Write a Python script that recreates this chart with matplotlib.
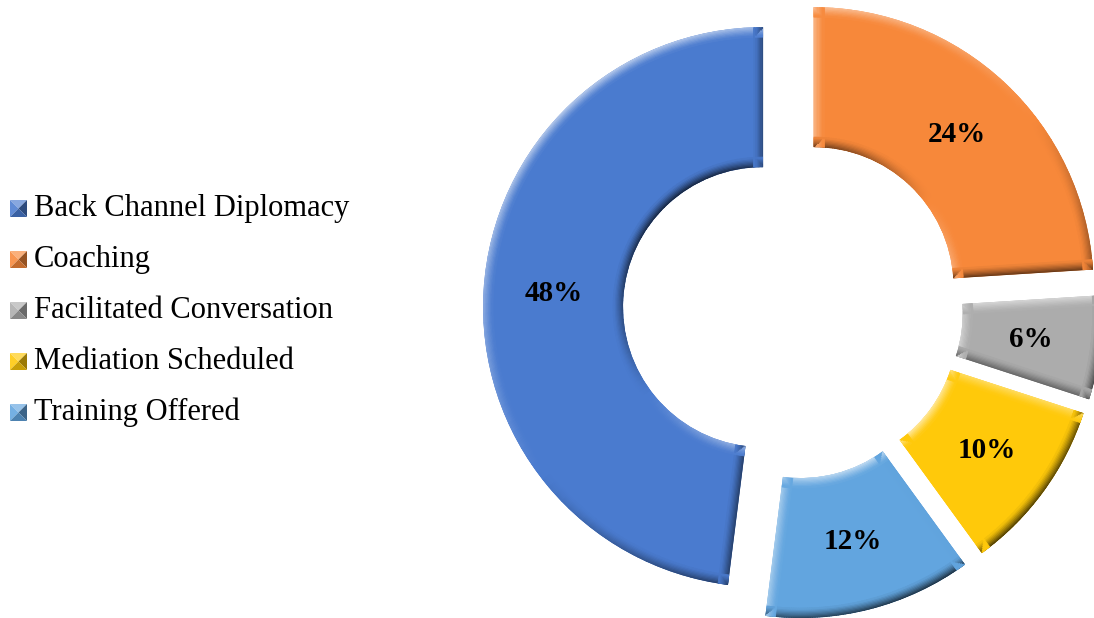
import numpy as np
import matplotlib

matplotlib.use("Agg")
import matplotlib.pyplot as plt  # noqa: E402
from matplotlib.collections import PolyCollection  # noqa: E402
from matplotlib.patches import Polygon  # noqa: E402

CATEGORIES = ["Back Channel Diplomacy", "Coaching", "Facilitated Conversation",
              "Mediation Scheduled", "Training Offered"]
SHARES = [48, 24, 6, 10, 12]
COLORS = ["#4a7bcf", "#f7883a", "#acacac", "#ffc90a", "#62a5df"]

W, H = 1094, 618
SERIF = ["Liberation Serif", "DejaVu Serif"]
LIGHT = np.array([-0.6, 0.8])  # light from the upper left


def shade(rgb, s, strength):
    rgb = np.asarray(rgb)
    if s > 0:
        return rgb + (1 - rgb) * 0.6 * s * strength
    return rgb * (1 - 0.7 * (-s) * strength)


def bevel(ax, wedge, color, depth=10.0, layers=8):
    """Soft bevel: shaded bands along the inside of the wedge outline."""
    c = np.asarray(wedge.center)
    r, w = wedge.r, wedge.width
    t = np.radians(np.linspace(wedge.theta1, wedge.theta2, 90))
    outer = c + r * np.c_[np.cos(t), np.sin(t)]
    inner = c + (r - w) * np.c_[np.cos(t[::-1]), np.sin(t[::-1])]
    ring = np.vstack([outer, inner, outer[:1]])
    base = matplotlib.colors.to_rgb(color)
    quads, cols = [], []
    for k in range(layers):
        d0, d1 = depth * k / layers, depth * (k + 1) / layers
        strength = (1 - k / layers) ** 1.3
        for p0, p1 in zip(ring[:-1], ring[1:]):
            d = p1 - p0
            ln = np.hypot(*d)
            if ln < 1e-9:
                continue
            n = np.array([d[1], -d[0]]) / ln
            quads.append([p0 - d0 * n, p1 - d0 * n, p1 - d1 * n, p0 - d1 * n])
            cols.append(np.clip(shade(base, n @ LIGHT, strength), 0, 1))
    pc = PolyCollection(quads, facecolors=cols, edgecolors=cols, linewidths=0.6,
                        zorder=wedge.get_zorder() + 0.5)
    ax.add_collection(pc)
    pc.set_clip_path(wedge)


fig = plt.figure(figsize=(W / 100, H / 100), dpi=100)
ax = fig.add_axes([0, 0, 1, 1])

wedges, _, pcts = ax.pie(
    SHARES, colors=COLORS, radius=280, center=(793, H - 309),
    explode=[30] * len(SHARES), startangle=-97.2, counterclock=False,
    wedgeprops=dict(width=140, linewidth=0), autopct="%.0f%%", pctdistance=0.75,
    textprops=dict(fontsize=21, fontweight="bold", family=SERIF, color="black"),
)
for wdg, col in zip(wedges, COLORS):
    bevel(ax, wdg, col)
for txt in pcts:
    txt.set_zorder(10)

# legend: bevelled square markers and serif labels
for i, (name, col) in enumerate(zip(CATEGORIES, COLORS)):
    base_y = H - (216 + 51 * i)
    x0, x1, y0, y1 = 10, 27, base_y - 1, base_y + 16
    xm, ym = (x0 + x1) / 2, (y0 + y1) / 2
    rgb = matplotlib.colors.to_rgb(col)
    faces = [
        ([(x0, y1), (x1, y1), (xm, ym)], shade(rgb, 0.8, 0.7)),
        ([(x0, y0), (x0, y1), (xm, ym)], shade(rgb, 0.4, 0.5)),
        ([(x1, y0), (x1, y1), (xm, ym)], shade(rgb, -0.8, 0.7)),
        ([(x0, y0), (x1, y0), (xm, ym)], shade(rgb, -0.5, 0.6)),
    ]
    for pts, fc in faces:
        ax.add_patch(Polygon(pts, closed=True, facecolor=np.clip(fc, 0, 1),
                             edgecolor="none"))
    ax.text(34, base_y, name, fontsize=22, family=SERIF, va="baseline",
            ha="left", color="black")

ax.set_xlim(0, W)
ax.set_ylim(0, H)
ax.set_aspect("equal")
ax.axis("off")
fig.savefig("out.png", dpi=100, facecolor="white")
